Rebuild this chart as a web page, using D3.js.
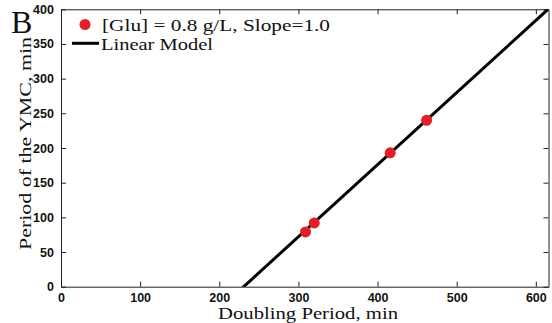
<!DOCTYPE html>
<html>
<head>
<meta charset="utf-8">
<script src="https://cdn.jsdelivr.net/npm/d3@7"></script>
<style>
  html, body { margin: 0; padding: 0; background: #fff; }
  svg { display: block; }
</style>
</head>
<body>
<svg id="chart" width="552" height="323"></svg>
<script>
// ---- data ----
const doublingPeriod = [309, 320, 416, 462];
const ymcPeriod = [79, 92, 193, 240];
const modelSlope = 1.04;
const modelIntercept = -240;
const xTicks = [0, 100, 200, 300, 400, 500, 600];
const yTicks = [0, 50, 100, 150, 200, 250, 300, 350, 400];
const xDomain = [0, 616];
const yDomain = [0, 400];
const legendLabels = ["[Glu] = 0.8 g/L, Slope=1.0", "Linear Model"];
const panelLabel = "B";
const xLabel = "Doubling Period, min";
const yLabel = "Period of the YMC, min";

// ---- layout ----
const svg = d3.select("#chart");
const L = 61, R = 548.5, T = 9.3, B = 286.7;
const x = d3.scaleLinear().domain(xDomain).range([L, R]);
const y = d3.scaleLinear().domain(yDomain).range([B, T]);
const serif = "'Liberation Serif', 'DejaVu Serif', serif";
const sans = "'Liberation Sans', Arial, sans-serif";

svg.append("clipPath").attr("id", "clip")
  .append("rect").attr("x", L).attr("y", T).attr("width", R - L).attr("height", B - T);

// axes (MATLAB-style box with inward ticks)
const tickLen = 5;
const axB = svg.append("g").attr("transform", `translate(0,${B})`)
  .call(d3.axisBottom(x).tickValues(xTicks).tickSizeInner(-tickLen).tickSizeOuter(0).tickPadding(6));
const axT = svg.append("g").attr("transform", `translate(0,${T})`)
  .call(d3.axisTop(x).tickValues(xTicks).tickSizeInner(-tickLen).tickSizeOuter(0).tickFormat(""));
const axL = svg.append("g").attr("transform", `translate(${L},0)`)
  .call(d3.axisLeft(y).tickValues(yTicks).tickSizeInner(-tickLen).tickSizeOuter(0).tickPadding(9));
const axR = svg.append("g").attr("transform", `translate(${R},0)`)
  .call(d3.axisRight(y).tickValues(yTicks).tickSizeInner(-tickLen).tickSizeOuter(0).tickFormat(""));

[axB, axT, axL, axR].forEach(g => {
  g.selectAll("path").attr("stroke", "#222").attr("stroke-width", 1);
  g.selectAll("line").attr("stroke", "#222").attr("stroke-width", 1);
  g.selectAll("text").attr("fill", "#111").style("font-family", sans)
    .style("font-weight", "bold").style("font-size", "12.5px");
});
axL.selectAll("text").attr("dx", "0.15em");

// linear model line
const lineX = [xDomain[0], xDomain[1]];
svg.append("path")
  .attr("clip-path", "url(#clip)")
  .attr("d", d3.line()(lineX.map(v => [x(v), y(modelSlope * v + modelIntercept)])))
  .attr("stroke", "#000").attr("stroke-width", 3).attr("fill", "none");

// data points
svg.append("g").selectAll("circle")
  .data(doublingPeriod.map((d, i) => [d, ymcPeriod[i]]))
  .join("circle")
  .attr("cx", d => x(d[0])).attr("cy", d => y(d[1]))
  .attr("r", 5.5).attr("fill", "#e21f26");

// legend
svg.append("circle").attr("cx", 85).attr("cy", 24.5).attr("r", 5.5).attr("fill", "#e21f26");
svg.append("text").attr("x", 102).attr("y", 30.5)
  .style("font-family", serif).style("font-size", "17.5px").attr("fill", "#111")
  .attr("textLength", 228).attr("lengthAdjust", "spacingAndGlyphs")
  .text(legendLabels[0]);
svg.append("line").attr("x1", 72).attr("x2", 99).attr("y1", 43.3).attr("y2", 43.3)
  .attr("stroke", "#000").attr("stroke-width", 3);
svg.append("text").attr("x", 101).attr("y", 50)
  .style("font-family", serif).style("font-size", "17.5px").attr("fill", "#111")
  .attr("textLength", 112).attr("lengthAdjust", "spacingAndGlyphs")
  .text(legendLabels[1]);

// panel label
svg.append("text").attr("x", 11).attr("y", 33)
  .style("font-family", serif).style("font-size", "32px").attr("fill", "#111")
  .text(panelLabel);

// axis labels
svg.append("text").attr("x", 218).attr("y", 319)
  .style("font-family", serif).style("font-size", "17px").attr("fill", "#111")
  .attr("textLength", 180).attr("lengthAdjust", "spacingAndGlyphs")
  .text(xLabel);
svg.append("text")
  .attr("transform", `translate(31,250) rotate(-90)`)
  .style("font-family", serif).style("font-size", "17.5px").attr("fill", "#111")
  .attr("textLength", 213).attr("lengthAdjust", "spacingAndGlyphs")
  .text(yLabel);
</script>
</body>
</html>
